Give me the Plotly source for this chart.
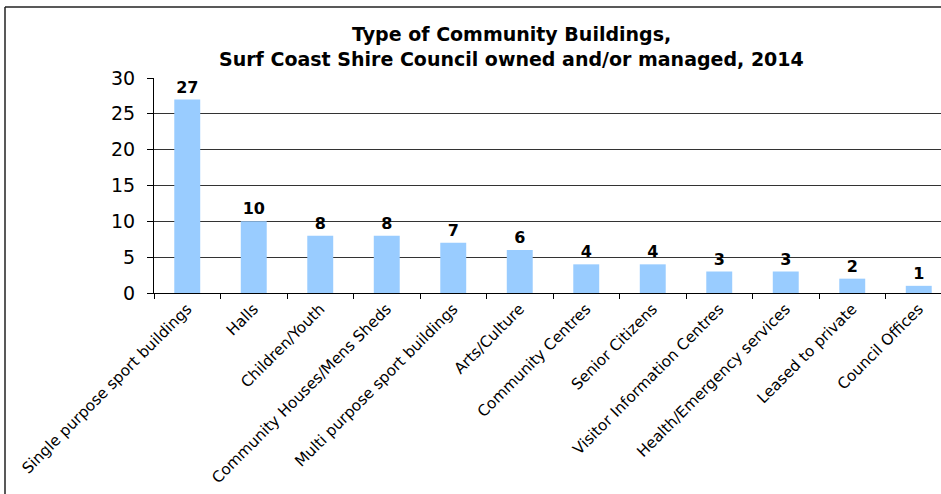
import plotly.graph_objects as go

categories = [
    "Single purpose sport buildings",
    "Halls",
    "Children/Youth",
    "Community Houses/Mens Sheds",
    "Multi purpose sport buildings",
    "Arts/Culture",
    "Community Centres",
    "Senior Citizens",
    "Visitor Information Centres",
    "Health/Emergency services",
    "Leased to private",
    "Council Offices",
]
values = [27, 10, 8, 8, 7, 6, 4, 4, 3, 3, 2, 1]
y_ticks = [0, 5, 10, 15, 20, 25, 30]
title_lines = ["Type of Community Buildings,",
               "Surf Coast Shire Council owned and/or managed, 2014"]

W, H = 941, 494
L, R, T, B = 154, 0, 78, 201
plot_w = W - L - R
plot_h = H - T - B
cat_px = 66.5
x_end = -0.5 + plot_w / cat_px

FONT = "DejaVu Sans"

fig = go.Figure(go.Bar(
    x=categories,
    y=values,
    marker=dict(color="#99CCFF", line=dict(width=0)),
    text=[str(v) for v in values],
    textposition="outside",
    textfont=dict(family=FONT, size=16, color="black", weight="bold"),
    cliponaxis=False,
))

def py(px_y):
    return 1 + (T - px_y) / plot_h

def pxx(px_x):
    return (px_x - L) / plot_w

fig.add_annotation(text="<b>" + title_lines[0] + "</b>", xref="paper", yref="paper",
                   x=pxx(511), y=py(34), xanchor="center", yanchor="middle",
                   showarrow=False, font=dict(family=FONT, size=19, color="black"))
fig.add_annotation(text="<b>" + title_lines[1] + "</b>", xref="paper", yref="paper",
                   x=pxx(511), y=py(58.5), xanchor="center", yanchor="middle",
                   showarrow=False, font=dict(family=FONT, size=19, color="black"))

# outer chart border (top and left visible)
fig.add_shape(type="line", xref="paper", yref="paper",
              x0=pxx(5), x1=pxx(W + 5), y0=py(7), y1=py(7),
              line=dict(color="#222222", width=1.5))
fig.add_shape(type="line", xref="paper", yref="paper",
              x0=pxx(5), x1=pxx(5), y0=py(7), y1=py(H + 5),
              line=dict(color="#222222", width=1.5))

fig.update_layout(
    width=W, height=H,
    margin=dict(l=L, r=R, t=T, b=B, pad=0),
    paper_bgcolor="white", plot_bgcolor="white",
    bargap=0.61,
    showlegend=False,
    font=dict(family=FONT, color="black"),
)
fig.update_xaxes(
    type="category",
    range=[-0.5, x_end],
    tickangle=-45,
    tickfont=dict(family=FONT, size=15.3, color="black"),
    showline=True, linecolor="black", linewidth=1,
    ticks="outside", tickson="boundaries", ticklen=5, tickcolor="black",
    showgrid=False, automargin=False,
)
fig.update_yaxes(
    range=[0, 30],
    tickvals=y_ticks,
    tickfont=dict(family=FONT, size=19, color="black"),
    showline=True, linecolor="black", linewidth=1,
    ticks="outside", ticklen=6, tickcolor="black",
    ticklabelstandoff=8,
    showgrid=True, gridcolor="#333333", gridwidth=1,
    zeroline=False, automargin=False,
)

fig.write_html("out.html")
